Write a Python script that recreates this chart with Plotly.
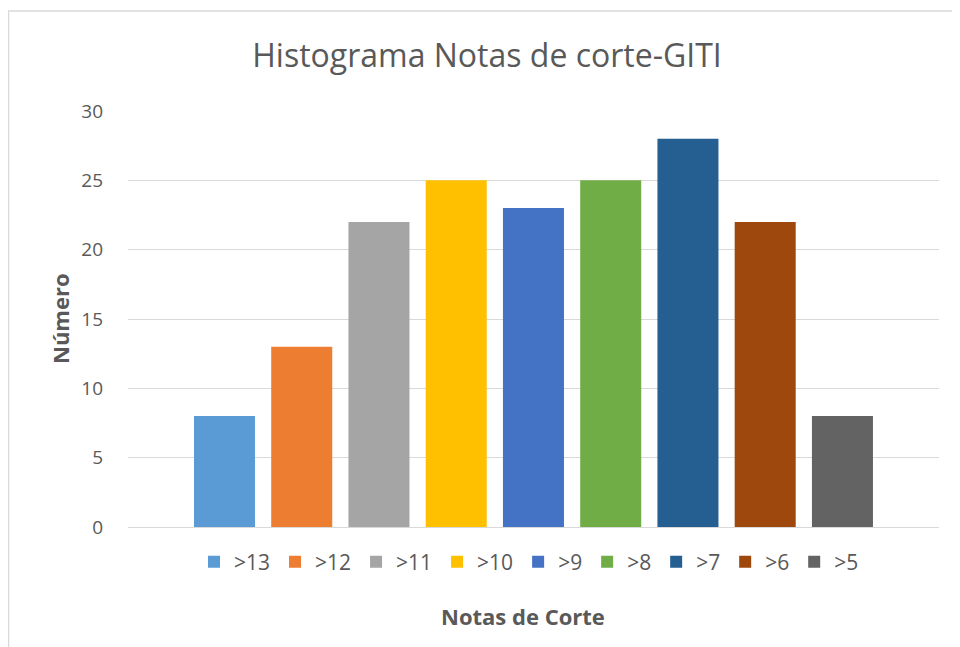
import plotly.graph_objects as go

categories = [">13", ">12", ">11", ">10", ">9", ">8", ">7", ">6", ">5"]
values = [8, 13, 22, 25, 23, 25, 28, 22, 8]
colors = ["#5B9BD5", "#ED7D31", "#A5A5A5", "#FFC000", "#4472C4",
          "#70AD47", "#255E91", "#9E480E", "#636363"]
y_ticks = [0, 5, 10, 15, 20, 25, 30]

TEXT = "#595959"
GRID = "#D9D9D9"
FONT = "Open Sans"

fig = go.Figure()
for cat, val, col in zip(categories, values, colors):
    fig.add_trace(go.Bar(x=[cat], y=[val], name=cat, marker_color=col,
                         marker_line_width=0, width=0.79))

# page has an 8px body margin; figure coordinates = page coordinates - 8
OFF = 8
W, H = 952, 639
L, T = 128 - OFF, 111 - OFF
R = W - (939 - OFF)
B = H - (527 - OFF)
pw, ph = W - L - R, H - T - B


def px(x):
    return (x - OFF - L) / pw


def py(y):
    return (527 - y) / ph


fig.update_layout(
    width=W, height=H,
    margin=dict(l=L, r=R, t=T, b=B),
    paper_bgcolor="white", plot_bgcolor="white",
    barmode="overlay",
    font=dict(family=FONT, color=TEXT),
    title=dict(text="Histograma Notas de corte-GITI", x=(487 - OFF) / W,
               xanchor="center", y=1 - (56 - OFF) / H, yanchor="middle",
               font=dict(size=32, color=TEXT, family=FONT)),
    xaxis=dict(type="category", categoryorder="array", categoryarray=categories,
               range=[-1.249, 9.25], showticklabels=False, showgrid=False,
               showline=True, linecolor=GRID, linewidth=1, ticks="",
               zeroline=False, fixedrange=True),
    yaxis=dict(range=[0, 30], tickvals=y_ticks, showgrid=True, gridcolor=GRID,
               gridwidth=1, zeroline=False, showline=False,
               tickfont=dict(size=19, color=TEXT, family=FONT),
               ticklabelstandoff=24, fixedrange=True),
    legend=dict(orientation="h", x=px(529), xanchor="center",
                y=py(562), yanchor="middle",
                font=dict(size=21, color=TEXT, family=FONT),
                traceorder="normal", itemwidth=30),
    showlegend=True,
    annotations=[
        dict(text="<b>Número</b>", xref="paper", yref="paper",
             x=px(60), y=py(319), xanchor="center", yanchor="middle",
             textangle=-90, showarrow=False,
             font=dict(size=22, color=TEXT, family=FONT)),
        dict(text="<b>Notas de Corte</b>", xref="paper", yref="paper",
             x=px(523), y=py(616), xanchor="center", yanchor="middle",
             showarrow=False, font=dict(size=22, color=TEXT, family=FONT)),
    ],
    shapes=[
        dict(type="line", xref="paper", yref="paper",
             x0=px(8), x1=px(962), y0=py(11), y1=py(11),
             line=dict(color=GRID, width=1.5)),
        dict(type="line", xref="paper", yref="paper",
             x0=px(8.5), x1=px(8.5), y0=py(11), y1=py(650),
             line=dict(color=GRID, width=1.5)),
    ],
)

fig.write_html("out.html")
